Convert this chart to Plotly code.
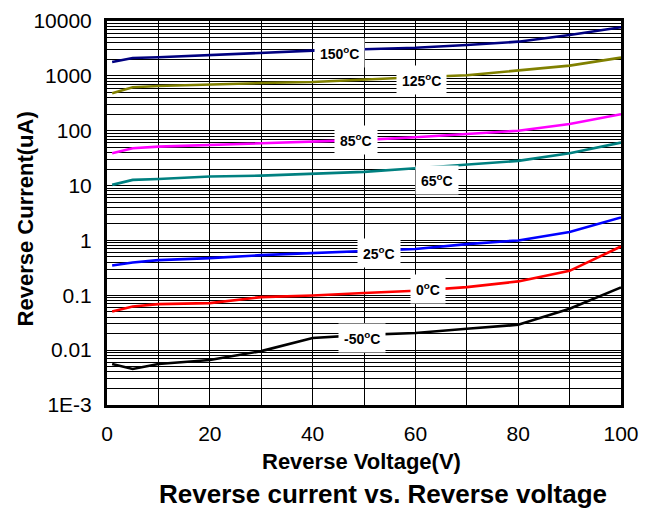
import plotly.graph_objects as go

voltage = [1, 5, 10, 20, 30, 40, 50, 60, 70, 80, 90, 100]
series_names = ["150°C", "125°C", "85°C", "65°C", "25°C", "0°C", "-50°C"]
i_150 = [1790, 2120, 2180, 2400, 2650, 2880, 3060, 3250, 3650, 4200, 5560, 7680]
i_125 = [482, 620, 655, 703, 740, 775, 841, 942, 1027, 1245, 1535, 2150]
i_85 = [38.9, 48, 51.3, 55, 59, 61.8, 68, 76, 86, 100, 133, 200]
i_65 = [10.3, 12.7, 13.2, 14.6, 15.2, 16.5, 17.8, 20.7, 24.5, 28.2, 38.9, 60.8]
i_25 = [0.349, 0.395, 0.437, 0.475, 0.539, 0.586, 0.65, 0.70, 0.857, 1.0, 1.42, 2.63]
i_0 = [0.0507, 0.0625, 0.069, 0.072, 0.0927, 0.099, 0.11, 0.121, 0.141, 0.179, 0.279, 0.776]
i_m50 = [0.00558, 0.00453, 0.0056, 0.0066, 0.0096, 0.0166, 0.019, 0.0205, 0.0245, 0.029, 0.0569, 0.139]
currents = [i_150, i_125, i_85, i_65, i_25, i_0, i_m50]
colors = ["#000080", "#808000", "#FF00FF", "#008080", "#0000FF", "#FF0000", "#000000"]
label_text = ["150<sup>o</sup>C", "125<sup>o</sup>C", "85<sup>o</sup>C", "65<sup>o</sup>C",
              "25<sup>o</sup>C", "0<sup>o</sup>C", "-50<sup>o</sup>C"]
label_x = [45.3, 61.1, 48.4, 64.2, 52.9, 62.5, 49.6]
label_logy = [3.417, 2.925, 1.832, 1.104, -0.226, -0.882, -1.774]

y_major = [1e-3, 1e-2, 1e-1, 1, 10, 100, 1000, 10000]
y_major_text = ["1E-3", "0.01", "0.1", "1", "10", "100", "1000", "10000"]
y_minor = [d * m for d in y_major[:-1] for m in range(2, 10)]
x_major = [0, 20, 40, 60, 80, 100]
x_minor = [10, 30, 50, 70, 90]

font = "Liberation Sans, Arial, sans-serif"
fig = go.Figure()
for name, cur, col in zip(series_names, currents, colors):
    fig.add_trace(go.Scatter(x=voltage, y=cur, mode="lines", name=name,
                             line=dict(color=col, width=2.6), showlegend=False))

for t, lx, ly in zip(label_text, label_x, label_logy):
    fig.add_annotation(x=lx, y=ly, text="<b>" + t + "</b>", showarrow=False,
                       bgcolor="white", borderpad=5,
                       font=dict(family=font, size=14, color="black"))

fig.add_annotation(x=0.537, y=-0.232, xref="paper", yref="paper",
                   text="<b>Reverse current vs. Reverse voltage</b>", showarrow=False,
                   font=dict(family=font, size=26, color="black"), yanchor="middle")
fig.add_annotation(x=0.496, y=-0.148, xref="paper", yref="paper",
                   text="<b>Reverse Voltage(V)</b>", showarrow=False,
                   font=dict(family=font, size=22, color="black"), yanchor="middle")
fig.add_annotation(x=-0.159, y=0.484, xref="paper", yref="paper", textangle=-90,
                   text="<b>Reverse Current(uA)</b>", showarrow=False,
                   font=dict(family=font, size=22, color="black"),
                   xanchor="center", yanchor="middle")

fig.update_layout(
    width=641, height=504,
    margin=dict(l=99, r=28, t=13, b=107),
    paper_bgcolor="white", plot_bgcolor="white",
    font=dict(family=font, color="black"),
)
fig.update_xaxes(range=[0, 100], tickmode="array", tickvals=x_major,
                 minor=dict(tickmode="array", tickvals=x_minor, showgrid=True,
                            gridcolor="black", gridwidth=1, ticks=""),
                 showgrid=True, gridcolor="black", gridwidth=1,
                 showline=True, linecolor="black", linewidth=3, mirror=True,
                 ticks="", ticklabelstandoff=8, zeroline=False, automargin=False,
                 tickfont=dict(size=21))
fig.update_yaxes(type="log", range=[-3, 4], tickmode="array", tickvals=y_major,
                 ticktext=y_major_text,
                 minor=dict(tickmode="array", tickvals=y_minor, showgrid=True,
                            gridcolor="black", gridwidth=1, ticks=""),
                 showgrid=True, gridcolor="black", gridwidth=1,
                 showline=True, linecolor="black", linewidth=3, mirror=True,
                 ticks="", ticklabelstandoff=8, zeroline=False, automargin=False,
                 tickfont=dict(size=21))

fig.write_html("out.html")
